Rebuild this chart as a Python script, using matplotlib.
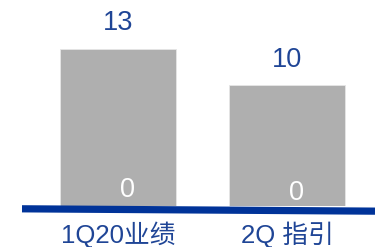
import matplotlib.pyplot as plt

plt.rcParams['font.family'] = ['Liberation Sans', 'Noto Sans CJK SC']

categories = ['1Q20业绩', '2Q 指引']
values = [13, 10]
base = [0, 0]

fig = plt.figure(figsize=(3.75, 2.47), dpi=100)
ax = fig.add_axes([0, 41 / 247, 1, 206 / 247])

x = range(len(categories))
bars = ax.bar(x, values, 0.686, color='#afafaf', edgecolor='#e6e6e6', linewidth=0.6)
ax.bar_label(bars, padding=9, fontsize=19.5, color='#1f4596')

# zero segment labels sitting on the base
for i, b in zip(x, base):
    ax.annotate(str(b), (i, b), xytext=(7, 2.5 - 2.5 * i), textcoords='offset points',
                ha='center', va='bottom', fontsize=19.5, color='white')

ax.set_xlim(-0.698, 1.521)
ax.set_ylim(0, 206 / 12.08)
ax.set_xticks(list(x), labels=categories)
ax.tick_params(axis='x', length=0, pad=11, labelsize=18.5, labelcolor='#1f4596')
ax.set_yticks([])
for s in ax.spines.values():
    s.set_visible(False)

# slightly tilted base line
ax.plot([22 / 375, 1.0], [-0.0136, -0.025], transform=ax.transAxes, color='#003399',
        linewidth=5.2, solid_capstyle='butt', clip_on=False)

fig.savefig('out.png', dpi=100)
